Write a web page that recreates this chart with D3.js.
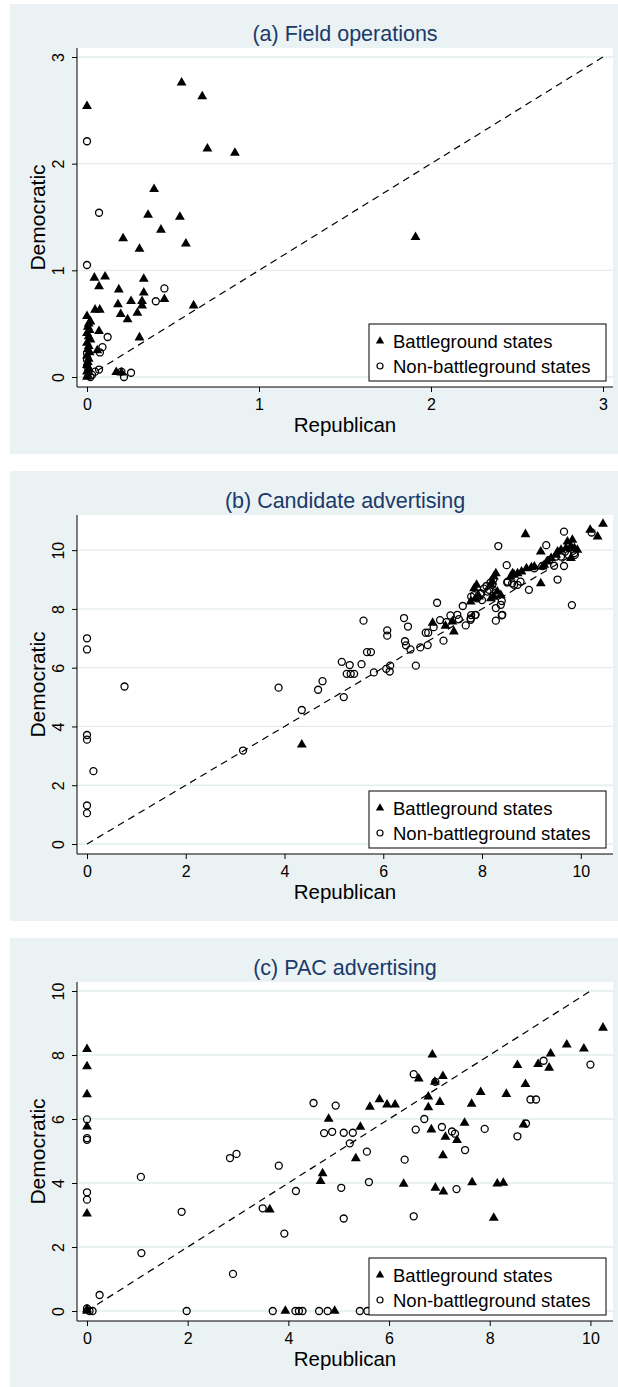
<!doctype html>
<html>
<head>
<meta charset="utf-8"/>
<title>Democratic vs Republican campaign activity</title>
<script src="https://d3js.org/d3.v7.min.js"></script>
<style>
body{margin:0;background:#fff;}
text{font-family:"Liberation Sans",Arial,sans-serif;}
</style>
</head>
<body>
<script>
// ---- data: (a) field operations ----
var fieldBgRep = [0,0.55,0.67,0.70,0.86,1.91,0.39,0.355,0.54,0.43,0.21,0.305,0.575,0.043,0.105,0.33,0.07,0.185,0.33,0.256,0.32,0.32,0.18,0.45,0.62,0.196,0.236,0.293,0.305,0.047,0.074,0.07,0.06,0.17,0.2,
  0,0.02,0.01,0.005,0.015,0,0.01,0.02,0,0.01,0.005,0.015,0,0.01,0.005,0,0.01,0,0.005,0];
var fieldBgDem = [2.54,2.76,2.63,2.14,2.10,1.31,1.76,1.52,1.50,1.38,1.30,1.20,1.25,0.93,0.94,0.92,0.85,0.82,0.79,0.71,0.71,0.67,0.68,0.73,0.67,0.59,0.54,0.60,0.37,0.63,0.63,0.43,0.25,0.045,0.04,
  0.57,0.52,0.5,0.47,0.44,0.41,0.38,0.35,0.32,0.29,0.26,0.23,0.2,0.17,0.14,0.11,0.08,0.05,0.02,0];
var fieldNbRep = [0,0.07,0,0.45,0.40,0.12,0.09,0.075,0.07,0.047,0.2,0.215,0.256,0.02,0,0,0,0.03];
var fieldNbDem = [2.21,1.54,1.05,0.83,0.71,0.375,0.28,0.23,0.07,0.05,0.05,0,0.04,0,0.1,0.16,0.22,0.02];

// ---- data: (b) candidate advertising ----
var candBgRep = [4.35,7.0,7.26,7.43,7.4,7.77,7.89,7.84,7.94,7.87,8.28,8.24,8.21,8.18,8.31,8.38,8.24,8.18,8.58,8.62,8.65,8.72,8.8,8.9,9.0,9.06,9.23,9.26,9.33,9.4,9.5,9.53,9.6,9.7,9.73,9.83,9.8,9.87,9.93,9.8,9.19,9.19,8.88,10.45,10.19,10.34];
var candBgDem = [3.38,7.52,7.42,7.23,7.57,8.25,8.82,8.7,8.42,8.36,9.21,9.1,8.93,8.82,8.59,8.47,8.41,8.36,9.1,9.21,9.16,9.21,9.27,9.38,9.41,9.44,9.44,9.5,9.61,9.73,9.84,9.95,10.01,10.07,10.29,10.35,10.13,10.07,10.01,9.73,9.95,8.87,10.54,10.89,10.69,10.46];
var candNbRep = [0,0,0.76,3.88,4.35,3.16,0,0,0.13,0,0,
  4.68,4.77,5.2,5.16,5.32,5.26,5.34,5.41,5.56,5.6,5.67,5.75,5.81,6.08,6.08,6.06,6.14,6.13,6.42,6.5,6.44,6.46,6.55,6.66,6.75,6.9,6.86,6.91,7.02,7.09,7.15,7.22,7.28,7.36,7.5,7.53,7.61,7.67,7.77,7.78,7.86,7.78,7.98,8.04,8.09,8.17,8.23,8.28,8.28,8.4,8.4,8.28,8.33,8.5,8.51,8.65,8.95,9.06,9.22,9.3,9.53,9.66,9.66,9.82,9.88,10.22,9.46,9.36,9.5,9.6,9.68,9.75,9.87,8.52,8.61,8.72,8.78,8.14,8.21,8.11,7.97,7.9,8.0,7.84,8.38,7.87,7.77,8.41];
var candNbDem = [7.0,6.62,5.36,5.32,4.56,3.18,3.71,3.55,2.48,1.31,1.05,
  5.25,5.54,5.0,6.2,6.09,5.79,5.79,5.79,6.12,7.6,6.53,6.53,5.84,7.09,7.27,5.96,6.07,5.87,7.69,7.4,6.9,6.76,6.62,6.07,6.69,6.77,7.19,7.19,7.38,8.21,7.62,6.92,7.55,7.78,7.8,7.65,8.1,7.44,7.68,7.79,7.79,8.42,8.51,8.69,8.78,8.89,9.0,8.03,7.6,7.78,8.27,8.55,10.14,9.49,8.9,8.82,8.65,9.38,9.46,10.17,9.0,10.63,9.46,8.13,9.84,10.6,9.47,9.67,9.78,9.78,9.95,9.84,9.9,8.93,8.87,8.82,8.93,8.65,8.82,8.59,8.54,8.36,8.3,8.47,8.14,7.8,7.63,7.8];

// ---- data: (c) PAC advertising ----
var pacBgRep = [0,0,0,0,0,3.63,3.94,4.92,0,0,
  10.25,9.53,9.87,9.21,8.96,9.18,8.55,8.71,8.33,7.82,7.64,7.5,8.67,6.86,7.07,6.91,6.59,6.78,6.78,7.01,6.84,7.12,7.35,7.07,6.92,7.08,7.65,8.15,8.27,8.08,6.29,5.34,4.68,4.64,4.8,5.43,5.62,5.81,5.96,6.12];
var pacBgDem = [8.18,7.64,6.77,5.76,3.04,3.17,0,0,0.05,0,
  8.85,8.32,8.2,8.04,7.71,7.6,7.68,7.09,6.78,6.84,6.47,5.88,5.82,8.01,7.34,7.16,7.26,6.7,6.36,6.53,5.67,5.44,5.34,4.86,3.85,3.73,4.02,3.98,4.0,2.91,3.97,4.77,4.3,4.06,6.0,5.75,6.38,6.61,6.45,6.45];
var pacNbRep = [0,0,0,0,0,0.25,1.07,1.08,1.88,1.98,2.84,2.97,2.9,3.49,3.81,3.92,4.15,3.69,4.14,4.21,4.28,0.11,0,0.05,
  10.0,9.07,8.81,8.92,8.72,8.55,7.9,7.51,7.34,7.25,7.31,7.05,6.92,6.49,6.7,6.53,6.31,6.49,5.56,5.6,5.22,5.28,5.1,5.05,5.1,4.5,4.94,4.71,4.87,4.61,4.78,5.42,5.57];
var pacNbDem = [5.99,5.35,5.4,3.71,3.48,0.5,4.19,1.81,3.1,0,4.78,4.91,1.16,3.21,4.54,2.42,3.75,0,0,0,0,0,0.08,0,
  7.7,7.82,6.61,6.61,5.86,5.46,5.69,5.03,3.81,5.61,5.54,5.75,7.16,7.4,6.0,5.67,4.73,2.96,4.98,4.03,5.24,5.57,5.57,3.85,2.89,6.5,6.42,5.56,5.6,0,0,0,0];

var fieldTicks = [0,1,2,3];
var advTicks = [0,2,4,6,8,10];
var titles = ["(a) Field operations","(b) Candidate advertising","(c) PAC advertising"];
var legendLabels = ["Battleground states","Non-battleground states"];
var xTitle = "Republican", yTitle = "Democratic";

var W = 618, H = 1387;
var svg = d3.select("body").append("svg").attr("width", W).attr("height", H);

var panels = [
  {top:4,   title:titles[0], ticks:fieldTicks, lineMax:3,  bgR:fieldBgRep, bgD:fieldBgDem, nbR:fieldNbRep, nbD:fieldNbDem},
  {top:471, title:titles[1], ticks:advTicks,   lineMax:10, bgR:candBgRep,  bgD:candBgDem,  nbR:candNbRep,  nbD:candNbDem},
  {top:938, title:titles[2], ticks:advTicks,   lineMax:10, bgR:pacBgRep,   bgD:pacBgDem,   nbR:pacNbRep,   nbD:pacNbDem}
];

var triSym = d3.symbol().type(d3.symbolTriangle).size(42);
var triSmall = d3.symbol().type(d3.symbolTriangle).size(30);

panels.forEach(drawPanel);

function drawPanel(p)
{
  var left = 77, right = 613;
  var plotTop = p.top + 44, axisY = p.top + 383;
  var g = svg.append("g");

  // panel background
  g.append("rect").attr("x", 10).attr("y", p.top).attr("width", W - 10).attr("height", 450)
    .attr("fill", "#eaf2f3");
  g.append("rect").attr("x", left).attr("y", plotTop).attr("width", right - left).attr("height", axisY - plotTop)
    .attr("fill", "#fff");

  var xMax = Math.max(p.lineMax, d3.max(p.bgR), d3.max(p.nbR));
  var yMax = Math.max(p.lineMax, d3.max(p.bgD), d3.max(p.nbD));
  var x = d3.scaleLinear().domain([0, xMax]).range([left + 10, right - 10]);
  var y = d3.scaleLinear().domain([0, yMax]).range([axisY - 10, plotTop + 9]);

  // gridlines
  g.selectAll(null).data(p.ticks).enter().append("line")
    .attr("x1", left).attr("x2", right)
    .attr("y1", function(d){ return y(d); }).attr("y2", function(d){ return y(d); })
    .attr("stroke", "#e3ecee").attr("stroke-width", 1.3);

  // 45 degree line
  g.append("line")
    .attr("x1", x(0)).attr("y1", y(0)).attr("x2", x(p.lineMax)).attr("y2", y(p.lineMax))
    .attr("stroke", "#000").attr("stroke-width", 1.2).attr("stroke-dasharray", "7,5");

  // axes
  var xa = g.append("g").attr("transform", "translate(0," + axisY + ")")
    .call(d3.axisBottom(x).tickValues(p.ticks).tickSize(5).tickSizeOuter(0).tickFormat(d3.format("d")));
  var ya = g.append("g").attr("transform", "translate(" + left + ",0)")
    .call(d3.axisLeft(y).tickValues(p.ticks).tickSize(5).tickSizeOuter(0).tickFormat(d3.format("d")));
  [xa, ya].forEach(function(a){
    a.select(".domain").remove();
    a.selectAll("line").attr("stroke", "#000");
    a.selectAll("text").attr("font-size", 16).attr("fill", "#000")
      .attr("font-family", "Liberation Sans, Arial, sans-serif");
  });
  xa.selectAll("text").attr("y", 23).attr("dy", 0);
  ya.selectAll("text").attr("x", 0).attr("dy", 0).attr("text-anchor", "middle")
    .attr("transform", "translate(-13.5,0) rotate(-90)");
  g.append("line").attr("x1", left).attr("x2", right).attr("y1", axisY).attr("y2", axisY).attr("stroke", "#000");
  g.append("line").attr("x1", left).attr("x2", left).attr("y1", plotTop).attr("y2", axisY).attr("stroke", "#000");

  // markers: non-battleground (hollow circles)
  g.selectAll(null).data(p.nbR).enter().append("circle")
    .attr("cx", function(d){ return x(d); })
    .attr("cy", function(d,i){ return y(p.nbD[i]); })
    .attr("r", 3.5).attr("fill", "none").attr("stroke", "#000").attr("stroke-width", 1.3);
  // battleground (solid triangles)
  g.selectAll(null).data(p.bgR).enter().append("path")
    .attr("d", triSym)
    .attr("transform", function(d,i){ return "translate(" + x(d) + "," + y(p.bgD[i]) + ")"; })
    .attr("fill", "#000");

  // titles
  g.append("text").attr("x", (left + right) / 2).attr("y", p.top + 37).attr("text-anchor", "middle")
    .attr("font-size", 21.5).attr("fill", "#1a3a6a").text(p.title);
  g.append("text").attr("x", (left + right) / 2).attr("y", p.top + 428).attr("text-anchor", "middle")
    .attr("font-size", 20.5).attr("fill", "#000").text(xTitle);
  g.append("text").attr("transform", "translate(45," + ((plotTop + axisY) / 2) + ") rotate(-90)")
    .attr("text-anchor", "middle").attr("font-size", 21).attr("fill", "#000").text(yTitle);

  // legend
  var lg = g.append("g").attr("transform", "translate(369," + (axisY - 63) + ")");
  lg.append("rect").attr("width", 237).attr("height", 57).attr("fill", "#fff").attr("stroke", "#000");
  lg.append("path").attr("d", triSmall).attr("transform", "translate(11,17)").attr("fill", "#000");
  lg.append("circle").attr("cx", 11).attr("cy", 42).attr("r", 3).attr("fill", "none")
    .attr("stroke", "#000").attr("stroke-width", 1.2);
  lg.selectAll(null).data(legendLabels).enter().append("text")
    .attr("x", 24).attr("y", function(d,i){ return 24 + i * 25; })
    .attr("font-size", 18.5).attr("fill", "#000").text(function(d){ return d; });
}
</script>
</body>
</html>
